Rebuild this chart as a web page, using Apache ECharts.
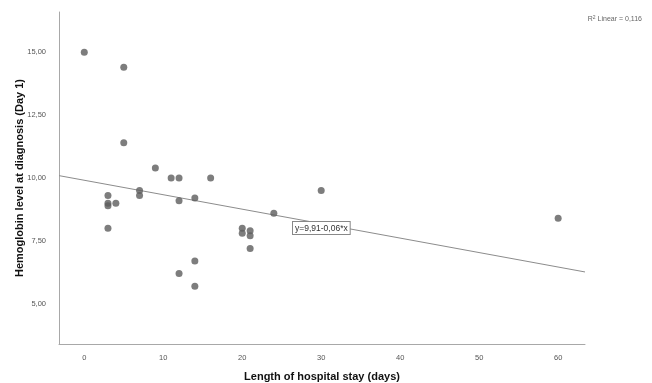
<!DOCTYPE html>
<html>
<head>
<meta charset="utf-8">
<script src="https://cdn.jsdelivr.net/npm/echarts@6/dist/echarts.min.js"></script>
<style>
html,body{margin:0;padding:0;background:#fff;}
#chart{width:652px;height:383px;}
</style>
</head>
<body>
<div id="chart"></div>
<script>
// Data (x = length of stay in days, y = hemoglobin level)
var stayDays = [0, 5, 5, 9, 11, 12, 16, 3, 3, 3, 4, 7, 7, 12, 14, 3, 14, 12, 14, 20, 20, 21, 21, 21, 24, 30, 60];
var hemoglobin = [15.0, 14.4, 11.4, 10.4, 10.0, 10.0, 10.0, 9.3, 9.0, 8.9, 9.0, 9.5, 9.3, 9.1, 9.2, 8.0, 6.7, 6.2, 5.7, 8.0, 7.8, 7.9, 7.7, 7.2, 8.6, 9.5, 8.4];
var xTicks = [0, 10, 20, 30, 40, 50, 60];
var yTicks = [5, 7.5, 10, 12.5, 15];
var fitIntercept = 9.91;
var fitSlope = -0.0575;
var fitLabel = 'y=9,91-0,06*x';
var r2Text = '0,116';
var xRange = [-3.2, 63.4];
var yRange = [3.4, 16.6];

var points = stayDays.map(function (x, i) { return [x, hemoglobin[i]]; });
var fitLine = xRange.map(function (x) { return [x, fitIntercept + fitSlope * x]; });

var chart = echarts.init(document.getElementById('chart'), null, {renderer: 'canvas'});
var fontFam = 'Arial, "Liberation Sans", sans-serif';
var option = {
  animation: false,
  backgroundColor: '#fff',
  textStyle: {fontFamily: fontFam},
  grid: {left: 59, right: 67, top: 12, bottom: 39, containLabel: false, outerBoundsMode: 'none'},
  xAxis: {
    type: 'value', min: xRange[0], max: xRange[1],
    name: 'Length of hospital stay (days)', nameLocation: 'middle', nameGap: 27,
    nameTextStyle: {fontFamily: fontFam, fontSize: 11, fontWeight: 'bold', color: '#111'},
    axisLine: {show: true, onZero: false, lineStyle: {color: '#a8a8a8', width: 1}},
    axisTick: {show: false},
    splitLine: {show: false},
    axisLabel: {customValues: xTicks, fontSize: 7.5, color: '#555', margin: 10, fontFamily: fontFam}
  },
  yAxis: {
    type: 'value', min: yRange[0], max: yRange[1],
    name: 'Hemoglobin level at diagnosis (Day 1)', nameLocation: 'middle', nameGap: 34, nameRotate: 90,
    nameMoveOverlap: false,
    nameTextStyle: {fontFamily: fontFam, fontSize: 11, fontWeight: 'bold', color: '#111'},
    axisLine: {show: true, onZero: false, lineStyle: {color: '#a8a8a8', width: 1}},
    axisTick: {show: false},
    splitLine: {show: false},
    axisLabel: {customValues: yTicks, fontSize: 7.5, color: '#555', margin: 13, fontFamily: fontFam,
      formatter: function (v) { return v.toFixed(2).replace('.', ','); }}
  },
  series: [
    {
      type: 'line', data: fitLine, showSymbol: false, symbol: 'none',
      lineStyle: {color: '#8c8c8c', width: 1}, z: 1, silent: true
    },
    {
      type: 'scatter', data: points, symbol: 'circle', symbolSize: 7,
      itemStyle: {color: '#5c5c5c'}, z: 3
    }
  ],
  graphic: [
    {
      type: 'text', left: 292, top: 221, z: 10,
      style: {
        text: fitLabel, fontSize: 8.5, fontFamily: fontFam, fill: '#333',
        backgroundColor: '#fff', borderColor: '#888', borderWidth: 1, padding: [2, 2, 1, 2]
      }
    },
    {
      type: 'text', right: 10, top: 15, z: 10,
      style: {
        text: '{n|R}{s|2}{n| Linear = ' + r2Text + '}',
        rich: {
          n: {fontSize: 7, fontFamily: fontFam, fill: '#666', color: '#666'},
          s: {fontSize: 5, fontFamily: fontFam, fill: '#666', color: '#666', verticalAlign: 'top', padding: [0, 0, 4, 0]}
        }
      }
    }
  ]
};
chart.setOption(option);
</script>
</body>
</html>
